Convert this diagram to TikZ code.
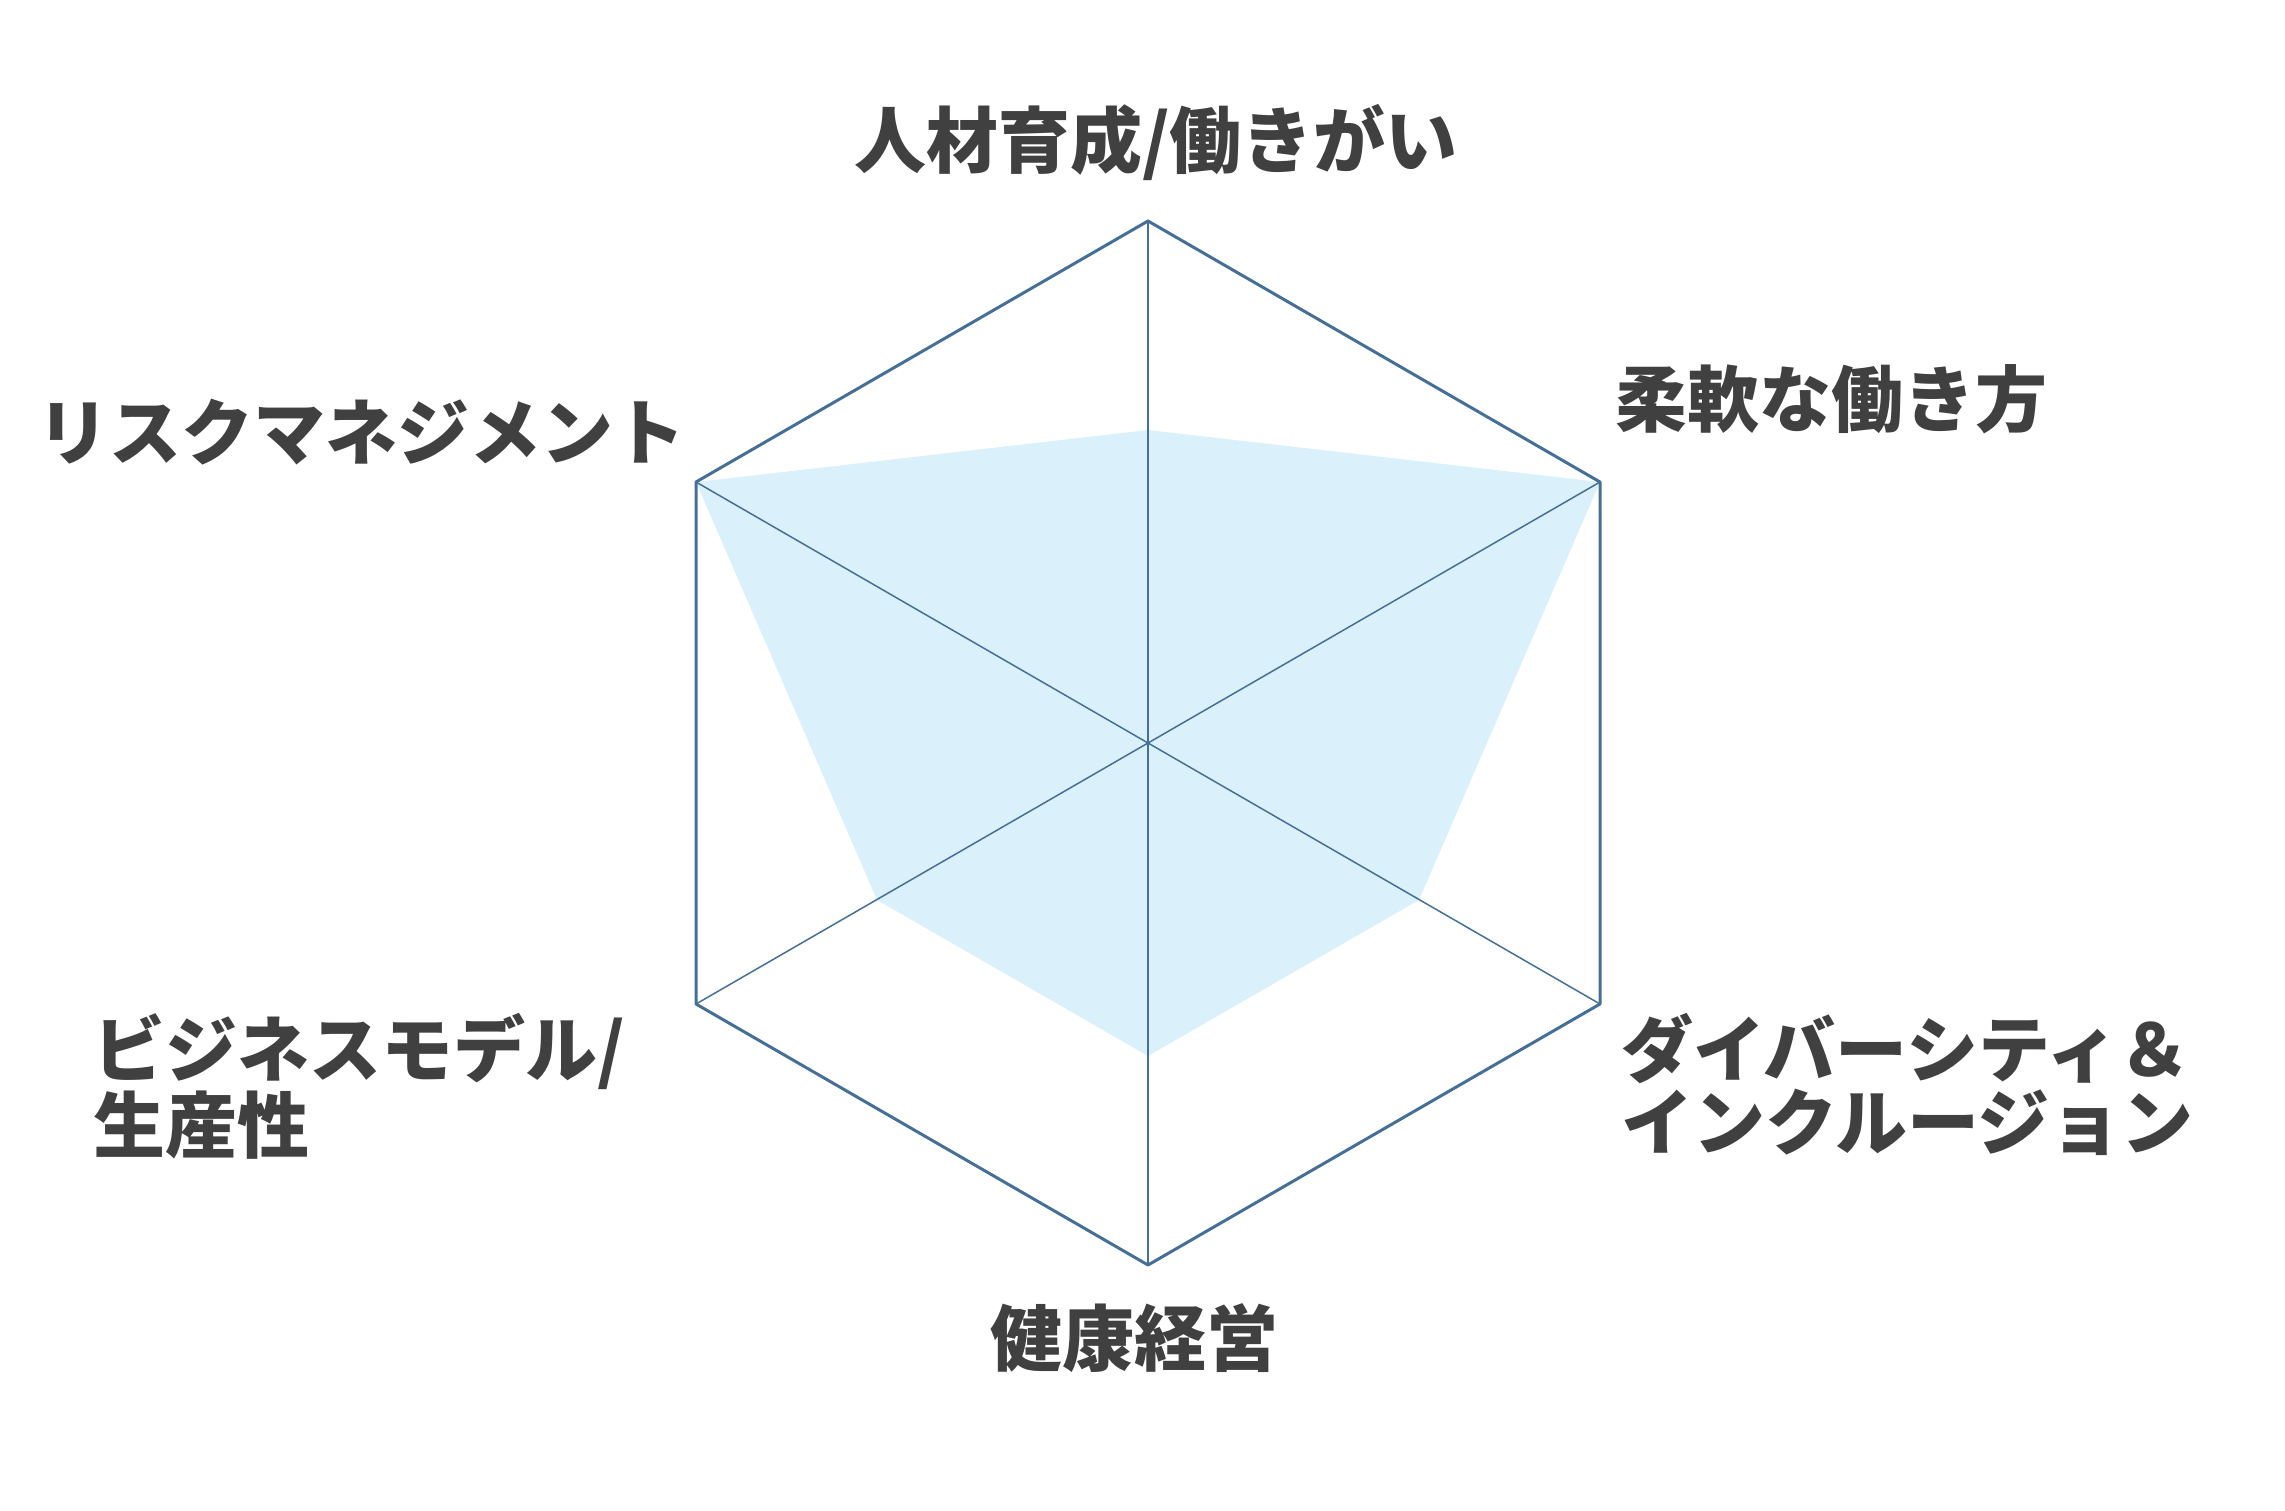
\documentclass[tikz,border=0pt]{standalone}
\usepackage{fontspec}
\newfontfamily\jp{Noto Sans CJK JP}
\definecolor{txt}{RGB}{64,64,64}
\definecolor{axis}{RGB}{70,111,152}
\definecolor{area}{RGB}{218,241,252}
\tikzset{
  lbl/.style={font=\jp\bfseries\fontsize{72}{73}\selectfont, text=txt, inner sep=0pt},
  rim/.style={draw=axis, line width=3pt, line join=round},
  spoke/.style={draw=axis, line width=1.5pt},
  datafill/.style={fill=area, draw=none}
}
\begin{document}
\begin{tikzpicture}[x=1pt,y=-1pt]
\useasboundingbox (0,0) rectangle (2285,1510);
% axes
\coordinate (C) at (1148,743);
\coordinate (A1) at (1148,221);
\coordinate (A2) at (1600,482);
\coordinate (A3) at (1600,1004);
\coordinate (A4) at (1148,1265);
\coordinate (A5) at (696,1004);
\coordinate (A6) at (696,482);
% data points
\coordinate (D1) at (1148,430);
\coordinate (D2) at (1600,482);
\coordinate (D3) at (1419,900);
\coordinate (D4) at (1148,1056);
\coordinate (D5) at (877,900);
\coordinate (D6) at (696,482);
\path[datafill] (D1) -- (D2) -- (D3) -- (D4) -- (D5) -- (D6) -- cycle;
\foreach \i in {1,...,6} \draw[spoke] (C) -- (A\i);
\draw[rim] (A1) -- (A2) -- (A3) -- (A4) -- (A5) -- (A6) -- cycle;
% labels
\node[lbl] (L1) at (1156,143) {人材育成/働きがい};
\node[lbl] (L2) at (1831,399) {柔軟な働き方};
\node[lbl, anchor=north west, align=left] (L3) at (1621,1013) {ダイバーシティ＆\\インクルージョン};
\node[lbl] (L4) at (1134,1338) {健康経営};
\node[lbl, anchor=north west, align=left] (L5) at (93,1013) {ビジネスモデル/\\生産性};
\node[lbl] (L6) at (361,432) {リスクマネジメント};
\end{tikzpicture}
\end{document}
